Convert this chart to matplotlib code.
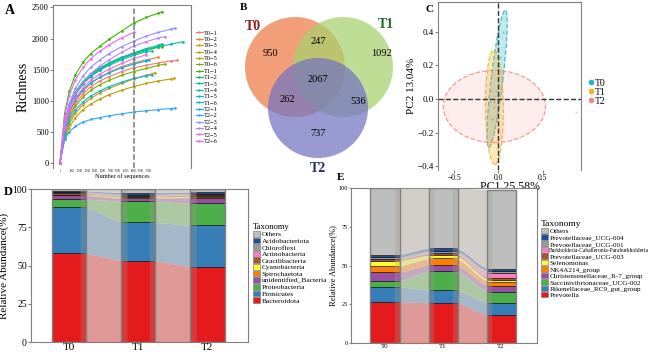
import numpy as np
import matplotlib
matplotlib.use('Agg')
import matplotlib.pyplot as plt
from matplotlib.patches import Circle, Ellipse, Rectangle, Patch
from matplotlib.lines import Line2D
import matplotlib.colors as mcolors

plt.rcParams['font.family'] = ['Liberation Serif', 'DejaVu Serif']

# ---------------- A: rarefaction curves ----------------
samples = ['T0-1', 'T0-2', 'T0-3', 'T0-4', 'T0-5', 'T0-6',
           'T1-1', 'T1-2', 'T1-3', 'T1-4', 'T1-5', 'T1-6',
           'T2-1', 'T2-2', 'T2-3', 'T2-4', 'T2-5', 'T2-6']
depth_grid = [0, 3000, 6000, 10000, 15000, 20000, 26000, 32000, 40000, 48000, 56000, 64000, 72000, 80000]
end_depth = [76000, 64000, 62000, 74000, 66000, 68000,
             66000, 66000, 66000, 80000, 60000, 60000,
             58000, 75000, 75000, 68000, 48000, 56000]
r_t0_1 = [0, 500, 750, 950, 1110, 1230, 1320, 1390, 1470, 1530, 1570, 1610, 1640, 1650]
r_t0_2 = [0, 540, 800, 1000, 1160, 1280, 1380, 1460, 1550, 1610, 1660, 1700]
r_t0_3 = [0, 420, 630, 800, 940, 1040, 1130, 1200, 1280, 1350, 1410, 1450]
r_t0_4 = [0, 380, 570, 730, 860, 950, 1030, 1100, 1170, 1230, 1280, 1320, 1350, 1360]
r_t0_5 = [0, 600, 880, 1100, 1280, 1400, 1500, 1590, 1680, 1750, 1810, 1860, 1870]
r_t0_6 = [0, 480, 720, 910, 1060, 1170, 1260, 1330, 1410, 1470, 1520, 1570, 1590]
r_t1_1 = [0, 800, 1150, 1420, 1620, 1760, 1880, 1990, 2120, 2250, 2340, 2410, 2430]
r_t1_2 = [0, 640, 920, 1140, 1310, 1430, 1520, 1600, 1690, 1760, 1820, 1870, 1880]
r_t1_3 = [0, 630, 910, 1130, 1310, 1430, 1530, 1610, 1700, 1770, 1840, 1890, 1910]
r_t1_4 = [0, 620, 900, 1120, 1300, 1420, 1520, 1600, 1690, 1760, 1820, 1870, 1910, 1950]
r_t1_5 = [0, 620, 890, 1100, 1270, 1390, 1490, 1570, 1660, 1730, 1790, 1800]
r_t1_6 = [0, 460, 680, 850, 980, 1080, 1160, 1230, 1300, 1360, 1400, 1420]
r_t2_1 = [0, 560, 820, 1020, 1180, 1290, 1380, 1450, 1530, 1590, 1640, 1650]
r_t2_2 = [0, 380, 500, 590, 660, 700, 730, 760, 790, 820, 840, 860, 875, 880]
r_t2_3 = [0, 650, 950, 1200, 1400, 1540, 1660, 1760, 1870, 1960, 2040, 2100, 2150, 2170]
r_t2_4 = [0, 600, 880, 1120, 1300, 1440, 1560, 1660, 1780, 1880, 1950, 2010, 2030]
r_t2_5 = [0, 750, 1080, 1340, 1540, 1680, 1800, 1900, 2010, 2100]
r_t2_6 = [0, 560, 830, 1040, 1210, 1330, 1430, 1510, 1600, 1680, 1740]
cutoff_depth = 48000
seq_ticks = [1, 8001, 13001, 18001, 23001, 28001, 33001, 38001, 43001, 48001, 53001, 58001]

# ---------------- B: venn counts ----------------
venn_sets = ['T0', 'T1', 'T2']
venn_counts = [950, 1092, 737, 247, 262, 536, 2067]  # T0, T1, T2, T0&T1, T0&T2, T1&T2, all

# ---------------- C: PCoA ----------------
pcoa_groups = ['T0', 'T1', 'T2']
ell_center = [(-0.015, 0.12), (-0.045, -0.05), (-0.045, -0.045)]
ell_size = [(0.84, 0.13), (0.20, 0.68), (1.15, 0.43)]
ell_angle = [77, 1, 0]
pts_x = [[0.05, 0.02, -0.03, -0.07, 0.0, -0.05],
         [-0.06, -0.03, -0.07, -0.04, -0.05, -0.02],
         [0.87, -0.05, -0.08, -0.06, -0.10, -0.04]]
pts_y = [[0.40, 0.25, 0.05, -0.12, 0.18, -0.02],
         [0.15, -0.10, -0.25, 0.02, -0.18, -0.30],
         [-0.08, -0.05, 0.05, -0.12, -0.02, 0.0]]

# ---------------- D: phylum ----------------
stages = ['T0', 'T1', 'T2']
phyla = ['Bacteroidota', 'Firmicutes', 'Proteobacteria', 'unidentified_Bacteria', 'Spirochaetota',
         'Cyanobacteria', 'Gracilibacteria', 'Actinobacteria', 'Chloroflexi', 'Acidobacteriota', 'Others']
phy_t0 = [58.0, 30.0, 5.3, 2.6, 0.3, 0.2, 1.0, 0.3, 0.3, 0.8, 1.2]
phy_t1 = [53.2, 25.0, 13.9, 1.8, 0.5, 0.4, 0.6, 0.3, 0.7, 1.2, 2.4]
phy_t2 = [49.2, 27.1, 14.3, 3.7, 0.6, 0.4, 1.0, 0.3, 0.4, 0.8, 2.2]

# ---------------- E: genus ----------------
genera = ['Prevotella', 'Rikenellaceae_RC9_gut_group', 'Succinivibrionaceae_UCG-002',
          'Christensenellaceae_R-7_group', 'NK4A214_group', 'Selenomonas', 'Prevotellaceae_UCG-003',
          'Burkholderia-Caballeronia-Paraburkholderia', 'Prevotellaceae_UCG-001',
          'Prevotellaceae_UCG-004', 'Others']
gen_t0 = [26.3, 10.0, 3.7, 5.6, 4.1, 3.4, 0.9, 0.3, 1.0, 1.7, 43.0]
gen_t1 = [26.0, 8.2, 12.5, 3.8, 4.1, 2.2, 1.0, 0.5, 1.2, 1.8, 38.7]
gen_t2 = [18.1, 7.9, 7.1, 3.7, 2.7, 1.3, 1.0, 3.6, 0.8, 1.6, 51.2]

# colours
hue18 = ['#F8766D', '#EA8331', '#D89000', '#C09B00', '#A3A500', '#7CAE00',
         '#39B600', '#00BB4E', '#00BF7D', '#00C1A3', '#00BFC4', '#00BAE0',
         '#00B0F6', '#35A2FF', '#9590FF', '#C77CFF', '#E76BF3', '#FA62DB']
tax_colors = ['#E41A1C', '#377EB8', '#4DAF4A', '#984EA3', '#FF7F00', '#FFFF33',
              '#A65628', '#F781BF', '#999999', '#1F4E9C', '#BEBEBE']

W, H = 669, 355
fig = plt.figure(figsize=(W / 100, H / 100), dpi=100)


def px_axes(l, t, r, b):
    return fig.add_axes([l / W, 1 - b / H, (r - l) / W, (b - t) / H])


def style_spines(ax, color='#808080'):
    for s in ax.spines.values():
        s.set_color(color)
        s.set_linewidth(0.8)


# ---- A ----
ax_a = px_axes(53, 5, 191, 168)
curves = [r_t0_1, r_t0_2, r_t0_3, r_t0_4, r_t0_5, r_t0_6,
          r_t1_1, r_t1_2, r_t1_3, r_t1_4, r_t1_5, r_t1_6,
          r_t2_1, r_t2_2, r_t2_3, r_t2_4, r_t2_5, r_t2_6]
for name, vals, end, col in zip(samples, curves, end_depth, hue18):
    d = [g for g in depth_grid if g < end] + [end]
    ax_a.plot(d, vals, color=col, lw=0.8, marker='.', ms=1.8, label=name.replace('-', '\u2212'))
ax_a.axvline(cutoff_depth, color='#777777', ls='--', lw=1.1)
ax_a.set_xlim(-4550, 85150)
ax_a.set_ylim(-80, 2540)
ax_a.set_yticks([0, 500, 1000, 1500, 2000, 2500])
ax_a.set_xticks(seq_ticks)
ax_a.set_xticklabels([str(t) for t in seq_ticks], fontsize=1.8)
ax_a.tick_params(axis='y', labelsize=6, length=2, pad=1, color='#808080')
ax_a.tick_params(axis='x', length=0, pad=1)
ax_a.set_ylabel('Richness', fontsize=10, labelpad=2)
ax_a.set_xlabel('Number of sequences', fontsize=4.5, labelpad=0)
style_spines(ax_a)
ax_a.spines['bottom'].set_visible(False)
ax_a.legend(loc='upper left', bbox_to_anchor=(193 / W, 1 - 27 / H), bbox_transform=fig.transFigure,
            fontsize=4.6, frameon=False, labelspacing=0.14, handlelength=1.0, handletextpad=0.2,
            borderpad=0, markerscale=0.8)
fig.text(5 / W, 1 - 10 / H, 'A', fontsize=10, fontweight='bold', va='center')

# ---- B ----
ax_b = px_axes(232, 0, 410, 180)
ax_b.set_xlim(232, 410)
ax_b.set_ylim(180, 0)
ax_b.axis('off')
circ = {'T0': ((295, 67), '#EE7A45'), 'T1': ((343, 67), '#A6D26C'), 'T2': ((318, 108), '#7373C2')}
for k in venn_sets:
    (cx, cy), col = circ[k]
    ax_b.add_patch(Circle((cx, cy), 50, facecolor=col, edgecolor='none', alpha=0.72))
venn_pos = [(270, 54), (381, 53), (318, 134), (318, 42), (287, 100), (358, 101), (318, 80)]
for (x, y), n in zip(venn_pos, venn_counts):
    ax_b.text(x, y, str(n), ha='center', va='center', fontsize=7.5)
ax_b.text(253, 27, 'T0', color='#8B1A1A', fontsize=10, fontweight='bold', ha='center', va='center')
ax_b.text(386, 24, 'T1', color='#1E6B2E', fontsize=10, fontweight='bold', ha='center', va='center')
ax_b.text(318, 168, 'T2', color='#1F2F6E', fontsize=10, fontweight='bold', ha='center', va='center')
fig.text(240 / W, 1 - 8 / H, 'B', fontsize=8, fontweight='bold', va='center')

# ---- C ----
ax_c = px_axes(438, 2, 581, 170)
c_cols = ['#1FB5C4', '#F5B21E', '#F38B82']
c_fill = [0.28, 0.28, 0.14]
for i, g in enumerate(pcoa_groups):
    ax_c.add_patch(Ellipse(ell_center[i], ell_size[i][0], ell_size[i][1], angle=ell_angle[i],
                           facecolor=c_cols[i], edgecolor='none', alpha=c_fill[i]))
    ax_c.add_patch(Ellipse(ell_center[i], ell_size[i][0], ell_size[i][1], angle=ell_angle[i],
                           facecolor='none', edgecolor=c_cols[i], ls='--', lw=0.9, alpha=0.85))
    ax_c.scatter(pts_x[i], pts_y[i], s=2, color=c_cols[i], alpha=0.6, lw=0)
ax_c.axhline(0, color='#333333', ls='--', lw=1)
ax_c.axvline(0, color='#333333', ls='--', lw=1)
ax_c.set_xlim(-0.68, 0.93)
ax_c.set_ylim(-0.423, 0.577)
ax_c.set_xticks([-0.5, 0, 0.5])
ax_c.set_xticklabels(['\u22120.5', '0.0', '0.5'], fontsize=5.5)
ax_c.set_yticks([-0.4, -0.2, 0, 0.2, 0.4])
ax_c.set_yticklabels(['\u22120.4', '\u22120.2', '0.0', '0.2', '0.4'], fontsize=6.5)
ax_c.tick_params(length=2, pad=1, color='#808080')
ax_c.set_xlabel('PC1 25.58%', fontsize=8.5, labelpad=-1)
ax_c.set_ylabel('PC2 13.04%', fontsize=8, labelpad=1)
style_spines(ax_c)
ax_c.spines['bottom'].set_visible(False)
c_handles = [Line2D([], [], ls='none', marker='o', ms=3, color=c) for c in c_cols]
fig.legend(c_handles, pcoa_groups, loc='upper left', bbox_to_anchor=(583 / W, 1 - 74 / H),
           fontsize=7, frameon=False, labelspacing=0, handlelength=0.6, handletextpad=0.1, borderpad=0)
fig.text(425 / W, 1 - 9 / H, 'C', fontsize=8, fontweight='bold', va='center')


# ---- D / E ----
def flow_colors(c, a=0.6):
    c = np.array(mcolors.to_rgb(c))
    base = np.array([0.86, 0.84, 0.82])
    target = 0.33 * c + 0.67 * base
    return np.clip((target - (1 - a)) / a, 0, 1)


def stacked_flow(ax, cols_data, colors, width=0.5, strip=0.09):
    vals = np.array(cols_data).T  # layers x stages
    nl, ng = vals.shape
    cum = np.vstack([np.zeros(ng), np.cumsum(vals, axis=0)])
    x = np.arange(ng)
    for i in range(nl):
        ax.bar(x, vals[i], bottom=cum[i], width=width, color=colors[i],
               edgecolor='black', linewidth=0.4, zorder=2)
    t = np.linspace(0, 1, 50)
    s = (1 - np.cos(np.pi * t)) / 2
    for j in range(ng - 1):
        x0 = x[j] + width / 2 - strip
        x1 = x[j + 1] - width / 2 + strip
        xs = x0 + (x1 - x0) * t
        for i in range(nl):
            lo = cum[i, j] + (cum[i, j + 1] - cum[i, j]) * s
            hi = cum[i + 1, j] + (cum[i + 1, j + 1] - cum[i + 1, j]) * s
            ax.fill_between(xs, lo, hi, color=flow_colors(colors[i]), alpha=0.6, lw=0, zorder=3)
    for xi in x:
        ax.add_patch(Rectangle((xi - width / 2, 0), width, cum[-1, xi], fill=False,
                               edgecolor='#808080', lw=1.0, zorder=4))
    ax.set_xticks(x)
    ax.set_xticklabels(stages)
    ax.set_ylim(0, 100)
    ax.set_yticks([0, 25, 50, 75, 100])


ax_d = px_axes(31, 189, 248, 342)
stacked_flow(ax_d, [phy_t0, phy_t1, phy_t2], tax_colors)
ax_d.set_xlim(-0.55, 2.59)
ax_d.tick_params(axis='x', labelsize=8, length=0, pad=0.5)
ax_d.tick_params(axis='y', labelsize=7, length=2, pad=1, color='#808080')
ax_d.set_ylabel('Relative Abundance(%)', fontsize=8, labelpad=2)
style_spines(ax_d)
d_handles = [Patch(facecolor=c, edgecolor='#808080', lw=0.5) for c in tax_colors][::-1]
fig.legend(d_handles, phyla[::-1], title='Taxonomy', loc='upper left',
           bbox_to_anchor=(249 / W, 1 - 219 / H), fontsize=5.4, title_fontsize=6.2,
           frameon=False, labelspacing=0.02, handlelength=1.0, handleheight=0.8,
           handletextpad=0.2, borderpad=0, alignment='left')
fig.text(4 / W, 1 - 192 / H, 'D', fontsize=9, fontweight='bold', va='center')

ax_e = px_axes(351, 188, 537, 343)
stacked_flow(ax_e, [gen_t0, gen_t1, gen_t2], tax_colors)
ax_e.set_xlim(-0.586, 2.62)
ax_e.tick_params(axis='x', labelsize=5, length=0, pad=1)
ax_e.tick_params(axis='y', labelsize=4.5, length=1.5, pad=1, color='#808080')
ax_e.set_ylabel('Relative Abundance(%)', fontsize=6, labelpad=1)
style_spines(ax_e)
e_handles = [Patch(facecolor=c, edgecolor='#808080', lw=0.5) for c in tax_colors][::-1]
leg_e = fig.legend(e_handles, genera[::-1], title='Taxonomy', loc='upper left',
                   bbox_to_anchor=(537 / W, 1 - 216 / H), fontsize=5.2, title_fontsize=6.8,
                   frameon=False, labelspacing=0.02, handlelength=1.0, handleheight=0.8,
                   handletextpad=0.2, borderpad=0, alignment='left')
for txt in leg_e.get_texts():
    if txt.get_text().startswith('Burkholderia'):
        txt.set_fontsize(4.0)
fig.text(337 / W, 1 - 178 / H, 'E', fontsize=8, fontweight='bold', va='center')

fig.savefig('out.png', dpi=100)
